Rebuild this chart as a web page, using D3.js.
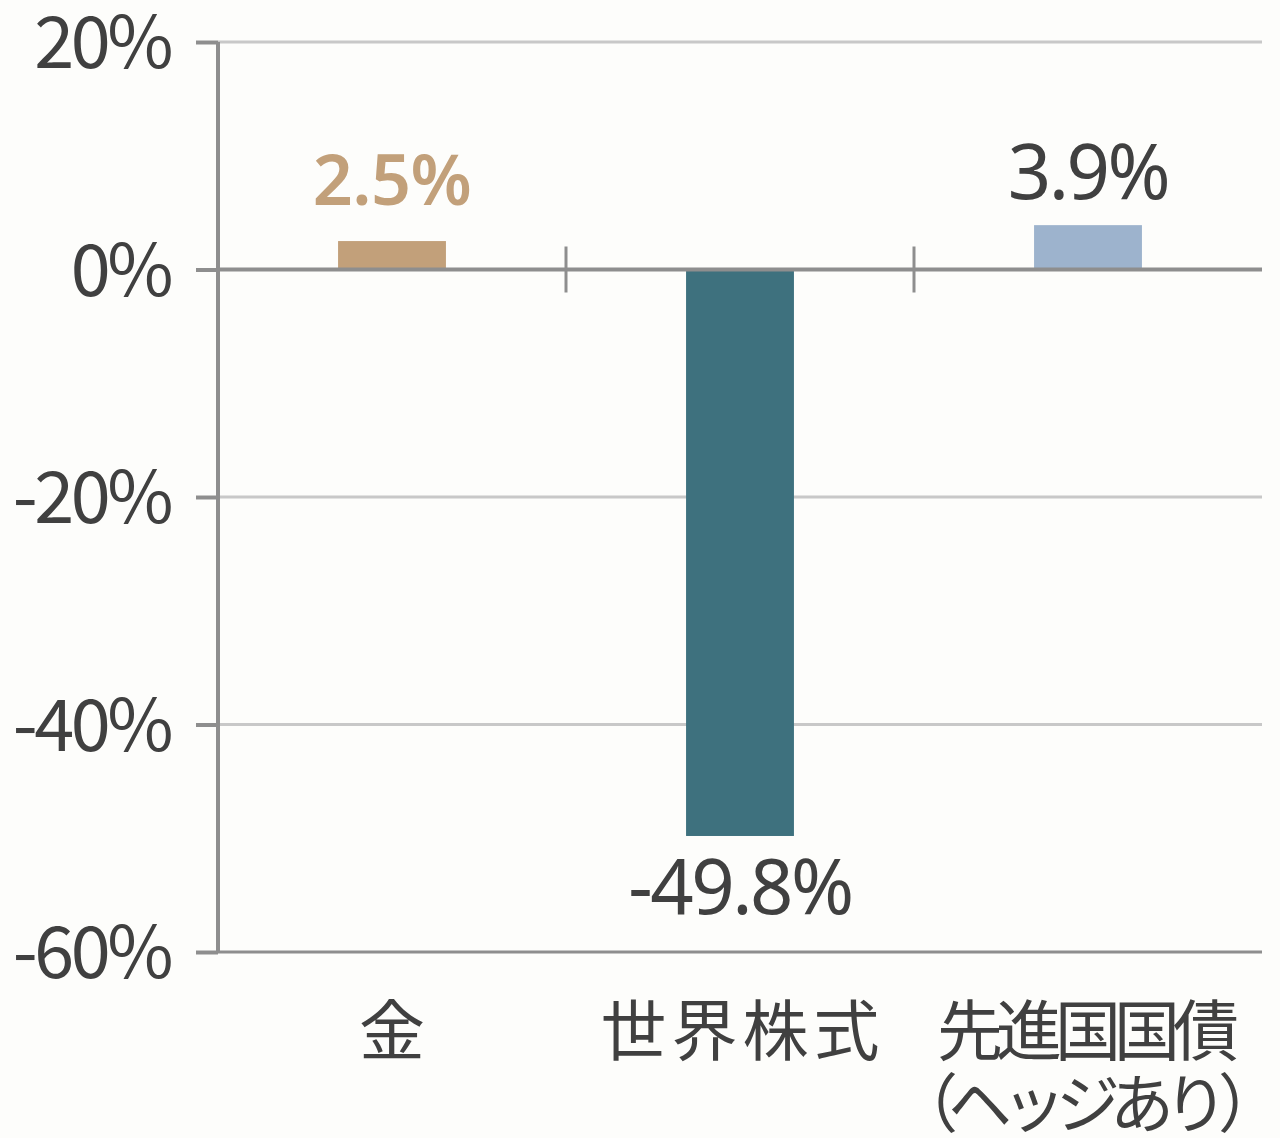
<!DOCTYPE html>
<html><head><meta charset="utf-8">
<script src="https://cdn.jsdelivr.net/npm/d3@7"></script>
<style>
html,body{margin:0;padding:0;background:#fdfdfb;}
svg{display:block;}
text{font-family:"Noto Sans CJK JP","Noto Sans",sans-serif;fill:#404040;}
</style></head>
<body>
<svg id="chart" width="1280" height="1138"></svg>
<script>
const categories = ["金", "世界株式", "先進国国債"];
const categorySub = ["", "", "（ヘッジあり）"];
const values = [2.5, -49.8, 3.9];
const valueLabels = ["2.5%", "-49.8%", "3.9%"];
const barColors = ["#c2a07a", "#3e717e", "#9db3cd"];
const labelColors = ["#c2a07a", "#404040", "#404040"];
const yTicks = [20, 0, -20, -40, -60];

(function () {
const svg = d3.select("#chart");
const mLeft = 218, mRight = 1262, mTop = 42, mBottom = 952;

const x = d3.scaleBand().domain(categories).range([mLeft, mRight]).paddingInner(0.69).paddingOuter(0.345);
const xb = d3.scaleBand().domain(categories).range([mLeft, mRight]);
const y = d3.scaleLinear().domain([-60, 20]).range([mBottom, mTop]);

// gridlines
svg.append("g").selectAll("line").data(yTicks.filter(d => d !== 0 && d !== -60)).join("line")
  .attr("x1", mLeft).attr("x2", mRight).attr("y1", d => y(d)).attr("y2", d => y(d))
  .attr("stroke", "#c8c8c8").attr("stroke-width", 3);

// bars
svg.append("g").selectAll("rect").data(values).join("rect")
  .attr("x", (d, i) => x(categories[i]))
  .attr("width", x.bandwidth())
  .attr("y", d => y(Math.max(0, d)))
  .attr("height", d => Math.abs(y(d) - y(0)))
  .attr("fill", (d, i) => barColors[i]);

// zero line
svg.append("line").attr("x1", mLeft).attr("x2", mRight).attr("y1", y(0)).attr("y2", y(0))
  .attr("stroke", "#8e8e8e").attr("stroke-width", 4);
// bottom line
svg.append("line").attr("x1", mLeft).attr("x2", mRight).attr("y1", y(-60)).attr("y2", y(-60))
  .attr("stroke", "#8e8e8e").attr("stroke-width", 3);

// category separator ticks on zero line
svg.append("g").selectAll("line").data(categories.slice(1)).join("line")
  .attr("x1", d => xb(d)).attr("x2", d => xb(d))
  .attr("y1", y(0) - 23).attr("y2", y(0) + 23)
  .attr("stroke", "#8e8e8e").attr("stroke-width", 3);

// y axis
const yAxis = d3.axisLeft(y).tickValues(yTicks).tickSize(22).tickPadding(26).tickFormat(d => d + "%");
const ga = svg.append("g").attr("transform", `translate(${mLeft},0)`).call(yAxis);
ga.select(".domain").attr("stroke", "#8e8e8e").attr("stroke-width", 4).attr("d", `M0,${mTop}V${mBottom}`);
ga.selectAll(".tick line").attr("stroke", "#8e8e8e").attr("stroke-width", 4);
ga.selectAll(".tick text").attr("font-size", 72).attr("fill", "#404040")
  .attr("font-family", '"Noto Sans","Noto Sans CJK JP",sans-serif').attr("dy", "0.36em").attr("letter-spacing", -3.5);

// value labels
svg.append("g").selectAll("text").data(values).join("text")
  .attr("x", (d, i) => xb(categories[i]) + xb.bandwidth() / 2)
  .attr("y", (d, i) => d >= 0 ? y(d) - (i === 0 ? 36 : 26) : y(d) + 78)
  .attr("text-anchor", "middle")
  .attr("font-size", (d, i) => i === 0 ? 70 : 76)
  .attr("font-weight", (d, i) => i === 0 ? 600 : 400)
  .attr("letter-spacing", (d, i) => i === 0 ? -0.5 : -2.5)
  .style("font-family", '"Noto Sans",sans-serif')
  .style("fill", (d, i) => labelColors[i])
  .text((d, i) => valueLabels[i]);

// category labels
const cg = svg.append("g");
categories.forEach((c, i) => {
  const cx = xb(c) + xb.bandwidth() / 2;
  const ls = c.length === 4 ? 5 : (c.length === 5 ? -7 : 0);
  cg.append("text").attr("x", cx + ls / 2).attr("y", 1055).attr("text-anchor", "middle")
    .attr("font-size", 66).attr("letter-spacing", ls).text(c);
  if (categorySub[i]) {
    cg.append("text").attr("x", cx - 5).attr("y", 1127).attr("text-anchor", "middle")
      .attr("font-size", 64).attr("letter-spacing", -10).text(categorySub[i]);
  }
});
})();
</script>
</body></html>
